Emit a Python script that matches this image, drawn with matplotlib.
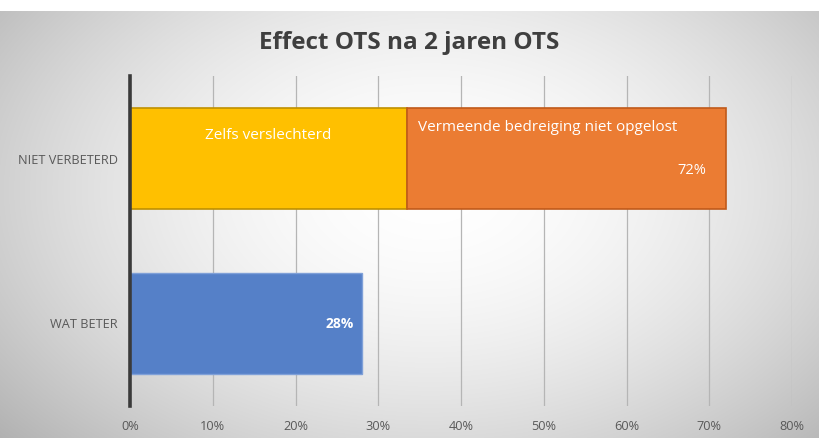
import numpy as np
import matplotlib
matplotlib.use("Agg")
import matplotlib.pyplot as plt
from matplotlib.ticker import PercentFormatter

categories = ["WAT BETER", "NIET VERBETERD"]
worse = [0.0, 33.5]          # Zelfs verslechterd
unresolved = [0.0, 38.5]     # Vermeende bedreiging niet opgelost
better = [28.0, 0.0]         # Wat beter
totals = ["28%", "72%"]
xticks = [0, 10, 20, 30, 40, 50, 60, 70, 80]

plt.rcParams['font.family'] = ['Open Sans', 'DejaVu Sans']

W, H = 8.19, 4.38
fig = plt.figure(figsize=(W, H), dpi=100)

# background: radial gradient panel
bg = fig.add_axes([0, 0, 1, 1], zorder=-10)
yy, xx = np.mgrid[0:438, 0:819]
cx, cy = 430, 190
r = np.sqrt(((xx - cx) / 500.0) ** 2 + ((yy - cy) / 330.0) ** 2)
val = 1.0 - 0.24 * np.clip(r, 0, 1.2) ** 1.8
val[:11, :] = 1.0
img = np.dstack([val, val, val])
bg.imshow(img, aspect='auto', extent=[0, 1, 0, 1], origin='upper')
bg.axis('off')

ax = fig.add_axes([130 / 819, 1 - 406 / 438, (792 - 130) / 819, (406 - 76) / 438])
ax.patch.set_alpha(0)
y = np.arange(len(categories))
h = 0.61
ax.barh(y, better, height=h, color='#5580C8', edgecolor='#7FA0D8', linewidth=1, zorder=3)
ax.barh(y[1], worse[1], height=h, color='#FFC000', edgecolor='#BF9000', linewidth=1.2, zorder=3)
ax.barh(y[1], unresolved[1], left=worse[1], height=h, color='#EB7C33', edgecolor='#C05A1A', linewidth=1.2, zorder=3)

ax.set_xlim(0, 80)
ax.set_ylim(-0.5, 1.5)
ax.set_xticks(xticks)
ax.xaxis.set_major_formatter(PercentFormatter(decimals=0))
ax.set_yticks(y)
ax.set_yticklabels(categories)
ax.tick_params(axis='both', length=0, labelsize=9.2, colors='#595959')
ax.tick_params(axis='x', pad=10)
ax.tick_params(axis='y', pad=9)
ax.grid(axis='x', color='#B5B5B5', linewidth=0.9, zorder=0)
for s in ['top', 'right', 'bottom']:
    ax.spines[s].set_visible(False)
ax.spines['left'].set_color('#3A3A3A')
ax.spines['left'].set_linewidth(2.6)
ax.spines['left'].set_zorder(5)

# in-bar labels
ax.text(worse[1] / 2, 1 + 0.14, "Zelfs verslechterd", color='white', ha='center', va='center', fontsize=11, zorder=6)
ax.text(worse[1] + 1.3, 1 + 0.19, "Vermeende bedreiging niet opgelost", color='white', ha='left', va='center', fontsize=11, zorder=6)
ax.text(worse[1] + unresolved[1] - 2.4, 1 - 0.07, totals[1], color='white', ha='right', va='center', fontsize=10.5, zorder=6)
ax.text(better[0] - 1.0, 0, totals[0], color='white', ha='right', va='center', fontsize=10, fontweight='bold', zorder=6)

fig.text(0.5, 1 - 43 / 438, "Effect OTS na 2 jaren OTS", ha='center', va='center',
         fontsize=17.5, fontweight='bold', color='#3F3F3F')

fig.savefig("out.png", dpi=100)
